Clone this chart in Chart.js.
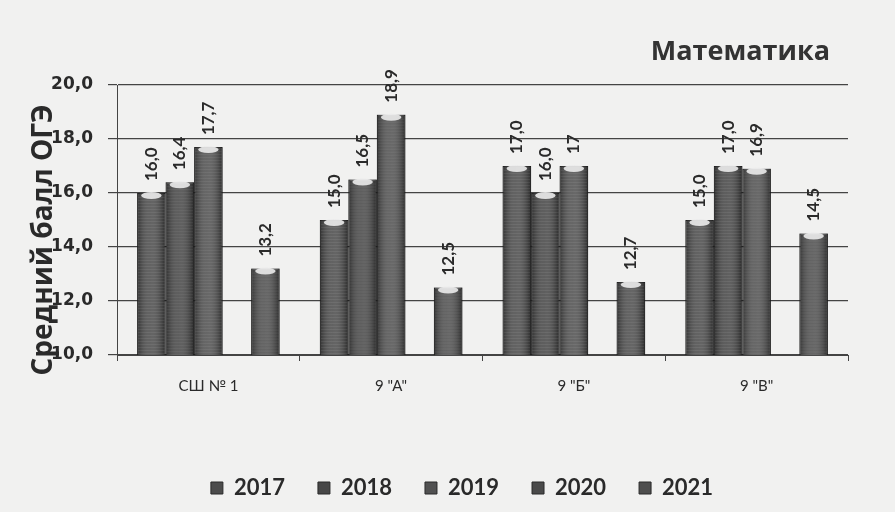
<!DOCTYPE html>
<html>
<head>
<meta charset="utf-8">
<script src="https://cdn.jsdelivr.net/npm/chart.js@4/dist/chart.umd.min.js"></script>
<style>
  html, body { margin: 0; padding: 0; background: #f1f1f0; }
  #wrap { width: 895px; height: 512px; position: relative; }
</style>
</head>
<body>
<div id="wrap"><canvas id="c" width="895" height="512"></canvas></div>
<script>
// ---- data ----
const categories = ['СШ № 1', '9 "А"', '9 "Б"', '9 "В"'];
const seriesNames = ['2017', '2018', '2019', '2020', '2021'];
// values kept as written in the reference labels (decimal point; shown with a comma)
const values2017 = ['16.0', '15.0', '17.0', '15.0'];
const values2018 = ['16.4', '16.5', '16.0', '17.0'];
const values2019 = ['17.7', '18.9', '17', '16.9'];
const values2020 = [null, null, null, null];
const values2021 = ['13.2', '12.5', '12.7', '14.5'];
const yMin = 10, yMax = 20, yStep = 2;
const titleText = 'Математика';
const yTitleText = 'Средний балл ОГЭ';

const seriesValues = [values2017, values2018, values2019, values2020, values2021];
const seriesColors = ['#4c4c4c', '#474747', '#515151', '#4a4a4a', '#4e4e4e'];

const fmt = v => String(v).replace('.', ',');

const bg = {
  id: 'bg',
  beforeDraw(chart) {
    const c = chart.ctx;
    c.save();
    c.fillStyle = '#f1f1f0';
    c.fillRect(0, 0, chart.width, chart.height);
    c.restore();
  }
};

// the reference legend sits a little right of centre
const legendShift = {
  id: 'legendShift',
  afterLayout(chart) {
    if (chart.legend) chart.legend.left += 76;
  }
};

const shade = {
  id: 'shade',
  afterDatasetsDraw(chart) {
    const c = chart.ctx;
    const bottom = chart.chartArea.bottom;
    c.save();
    chart.data.datasets.forEach((ds, i) => {
      const meta = chart.getDatasetMeta(i);
      meta.data.forEach((bar, j) => {
        if (ds.data[j] == null) return;
        const p = bar.getProps(['x', 'y', 'width'], true);
        const l = p.x - p.width / 2;
        const g = c.createLinearGradient(l, 0, l + p.width, 0);
        g.addColorStop(0, 'rgba(0,0,0,0.35)');
        g.addColorStop(0.45, 'rgba(255,255,255,0.12)');
        g.addColorStop(1, 'rgba(0,0,0,0.45)');
        c.fillStyle = g;
        c.fillRect(l, p.y, p.width, bottom - p.y);
        c.fillStyle = 'rgba(255,255,255,0.07)';
        for (let yy = p.y + 4; yy < bottom; yy += 3) c.fillRect(l + 1, yy, p.width - 2, 1);
        c.fillStyle = 'rgba(235,235,235,0.9)';
        c.beginPath();
        c.ellipse(p.x, p.y + 2.5, p.width * 0.36, 3.5, 0, 0, Math.PI * 2);
        c.fill();
      });
    });
    c.restore();
  }
};

const valueLabels = {
  id: 'valueLabels',
  afterDatasetsDraw(chart) {
    const c = chart.ctx;
    c.save();
    c.font = 'bold 17px Lato, "Liberation Sans", sans-serif';
    c.fillStyle = '#2a2a2a';
    c.textAlign = 'left';
    c.textBaseline = 'middle';
    chart.data.datasets.forEach((ds, i) => {
      const meta = chart.getDatasetMeta(i);
      meta.data.forEach((bar, j) => {
        const raw = ds.data[j];
        if (raw == null) return;
        const p = bar.getProps(['x', 'y'], true);
        c.save();
        c.translate(p.x, p.y - 12);
        c.rotate(-Math.PI / 2);
        c.fillText(fmt(raw), 0, 0);
        c.restore();
      });
    });
    c.restore();
  }
};

const texts = {
  id: 'texts',
  afterDraw(chart) {
    const c = chart.ctx;
    const a = chart.chartArea;
    c.save();
    c.fillStyle = '#333';
    c.font = 'bold 27px "Open Sans", sans-serif';
    c.textAlign = 'right';
    c.textBaseline = 'middle';
    c.fillText(titleText, a.right - 18, a.top - 33);
    c.fillStyle = '#2a2a2a';
    c.font = 'bold 28px "Open Sans", sans-serif';
    c.translate(44, (a.top + a.bottom) / 2 + 20);
    c.rotate(-Math.PI / 2);
    c.textAlign = 'center';
    c.fillText(yTitleText, 0, 0);
    c.restore();
  }
};

new Chart(document.getElementById('c'), {
  type: 'bar',
  data: {
    labels: categories,
    datasets: seriesNames.map((name, i) => ({
      label: name,
      data: seriesValues[i],
      backgroundColor: seriesColors[i],
      borderColor: '#2b2b2b',
      borderWidth: 1,
      categoryPercentage: 0.78,
      barPercentage: 1.0
    }))
  },
  options: {
    responsive: false,
    animation: false,
    layout: { padding: { left: 0, right: 47, top: 85, bottom: 3 } },
    plugins: {
      title: { display: false },
      legend: {
        position: 'bottom',
        labels: {
          color: '#2a2a2a',
          boxWidth: 12,
          boxHeight: 12,
          padding: 33,
          font: { family: 'Lato, "Open Sans", sans-serif', size: 22, weight: 'bold' }
        }
      },
      tooltip: { enabled: false }
    },
    scales: {
      x: {
        grid: { display: true, offset: true, drawOnChartArea: false, drawTicks: true, tickLength: 6, color: '#444' },
        border: { color: '#444', width: 1 },
        ticks: { color: '#2a2a2a', padding: 16, font: { family: 'Lato, "Liberation Sans", sans-serif', size: 15 } },
        afterFit(scale) { scale.height = 89; }
      },
      y: {
        min: yMin,
        max: yMax,
        ticks: {
          stepSize: yStep,
          color: '#2a2a2a',
          padding: 15,
          font: { family: '"DejaVu Sans", sans-serif', size: 17, weight: 'bold' },
          callback: v => v.toFixed(1).replace('.', ',')
        },
        grid: { color: '#444', lineWidth: 1.2, tickLength: 9 },
        border: { color: '#444', width: 1 },
        title: { display: false },
        afterFit(scale) { scale.width = 117; }
      }
    }
  },
  plugins: [bg, legendShift, shade, valueLabels, texts]
});
</script>
</body>
</html>
